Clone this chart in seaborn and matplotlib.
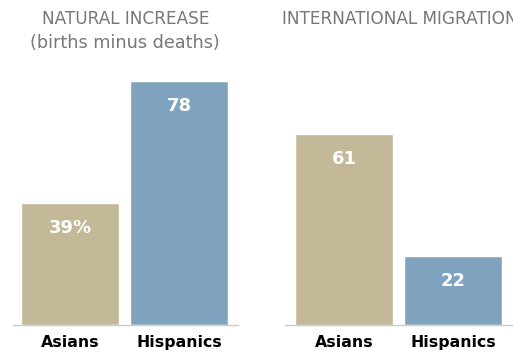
import matplotlib
matplotlib.use("Agg")
import matplotlib.pyplot as plt
import seaborn as sns
import pandas as pd

groups = ["Asians", "Hispanics"]
natural_increase = [39, 78]
international_migration = [61, 22]
natural_labels = ["39%", "78"]
migration_labels = ["61", "22"]
colors = ["#c3b998", "#7fa3be"]

sns.set_theme(style="white")
plt.rcParams['font.family'] = ['DejaVu Sans']

W, H = 513, 353
fig = plt.figure(figsize=(W / 100, H / 100), dpi=100)

def px_axes(x0, x1, ybot, ytop):
    return fig.add_axes([x0 / W, (H - ybot) / H, (x1 - x0) / W, (ybot - ytop) / H])

panels = [
    (natural_increase, natural_labels, 13, 238, (-0.523, 1.541)),
    (international_migration, migration_labels, 285, 520, (-0.541, 1.615)),
]

for vals, labs, x0, x1, xl in panels:
    ax = px_axes(x0, x1, 325, 65)
    df = pd.DataFrame({"group": groups, "value": vals})
    sns.barplot(data=df, x="group", y="value", hue="group", palette=colors,
                width=0.9, ax=ax, legend=False, saturation=1)
    ax.set_xlim(*xl)
    ax.set_ylim(0, 83)
    ax.set_xlabel("")
    ax.set_ylabel("")
    ax.set_yticks([])
    for s in ["top", "right", "left"]:
        ax.spines[s].set_visible(False)
    ax.spines["bottom"].set_color("#cccccc")
    ax.spines["bottom"].set_linewidth(1)
    ax.tick_params(axis="x", length=0, pad=7)
    for t in ax.get_xticklabels():
        t.set_fontweight("bold")
        t.set_fontsize(11.3)
        t.set_color("black")
    for i, (v, l) in enumerate(zip(vals, labs)):
        ax.annotate(l, (i, v), xytext=(0, -25), textcoords="offset pixels",
                    ha="center", va="center", color="white",
                    fontweight="bold", fontsize=13)
    ax.patch.set_alpha(0)

fig.text(126 / W, 1 - 19 / H, "NATURAL INCREASE", ha="center", va="center",
         color="#777777", fontsize=12.2)
fig.text(125 / W, 1 - 43 / H, "(births minus deaths)", ha="center", va="center",
         color="#777777", fontsize=12.7)
fig.text(282 / W, 1 - 19 / H, "INTERNATIONAL MIGRATION", ha="left", va="center",
         color="#777777", fontsize=12.2)

fig.savefig("out.png", dpi=100)
